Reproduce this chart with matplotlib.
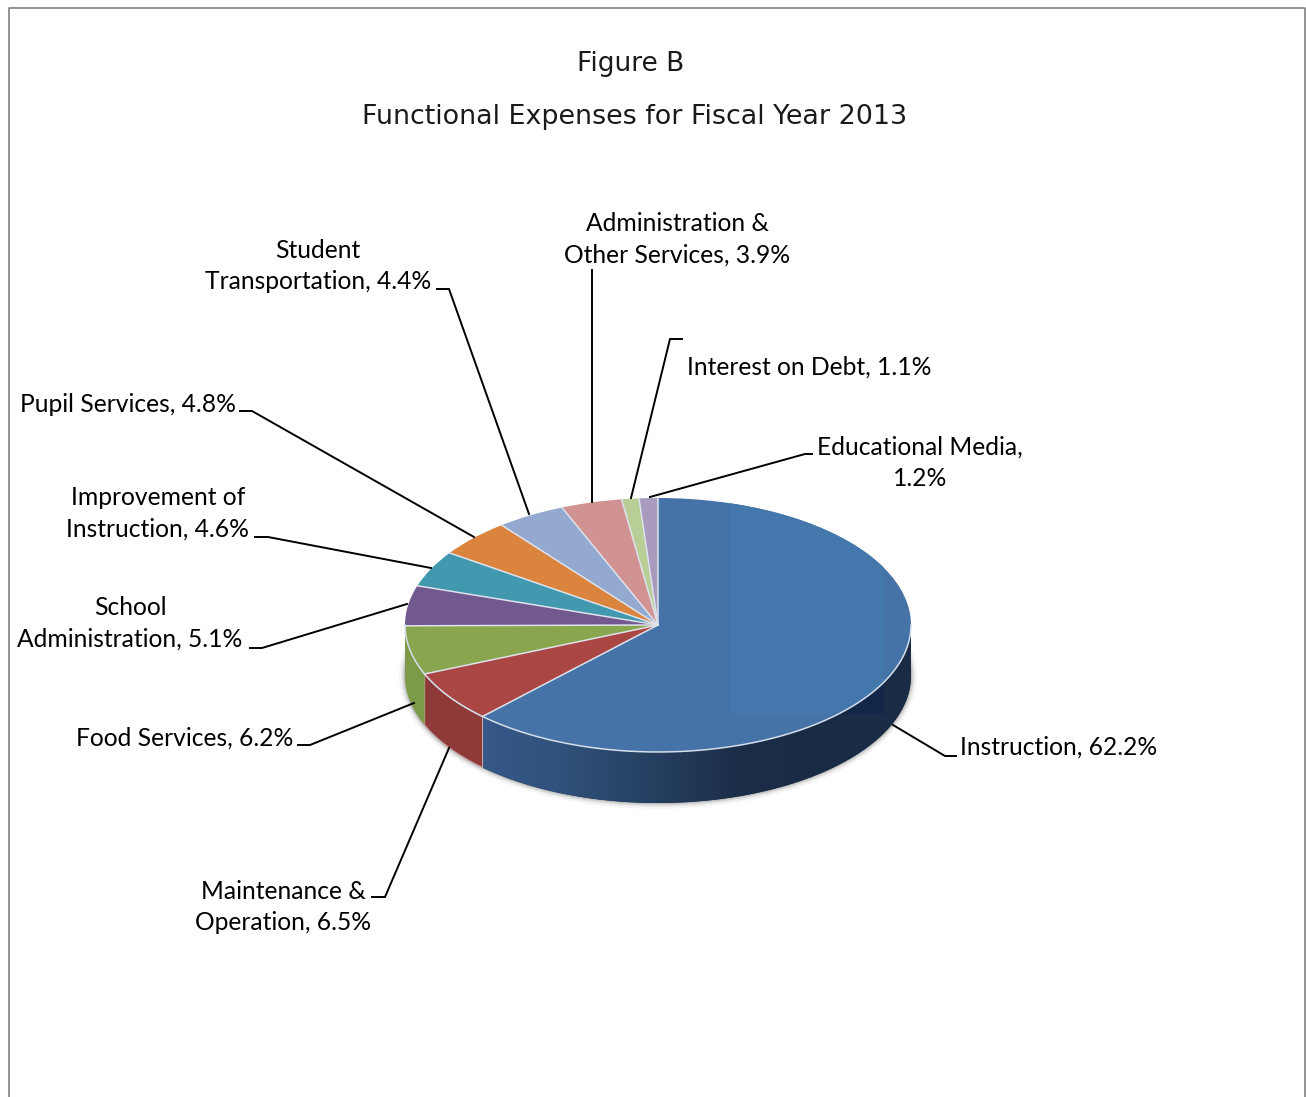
import numpy as np
import matplotlib
matplotlib.use('Agg')
import matplotlib.pyplot as plt
from matplotlib.colors import LinearSegmentedColormap
from matplotlib.patches import Ellipse, Polygon, Rectangle

# values in chart order, clockwise from 12 o'clock
categories = ['Instruction', 'Maintenance & Operation', 'Food Services', 'School Administration',
              'Improvement of Instruction', 'Pupil Services', 'Student Transportation',
              'Administration & Other Services', 'Interest on Debt', 'Educational Media']
values = [62.2, 6.5, 6.2, 5.1, 4.6, 4.8, 4.4, 3.9, 1.1, 1.2]
top_colors = ['#4572a7', '#aa4643', '#89a54e', '#71588f', '#4198af',
              '#db843d', '#93a9cf', '#d19392', '#b9cd96', '#a99bbd']

W, H = 1306, 1097
cx, cy, rx, ry = 658, 625, 253, 127
depth = 51 / ry

fig = plt.figure(figsize=(W / 100, H / 100), dpi=100)

# pie axes: one data unit is rx pixels across and ry pixels down, so the circle reads as a tilted disc
ax = fig.add_axes([0, 0, 1, 1])
wedges, _ = ax.pie(values, colors=top_colors, startangle=90, counterclock=False, radius=1,
                   wedgeprops=dict(linewidth=0))
ax.set_aspect('auto')
ax.set_xlim(-cx / rx, (W - cx) / rx)
ax.set_ylim(-(H - cy) / ry, cy / ry)
ax.axis('off')
for w in wedges:
    w.set_zorder(5)


def side_polygon(a0, a1):
    t = np.radians(np.linspace(a0, a1, 80))
    x, y = np.cos(t), np.sin(t)
    return np.r_[np.c_[x, y], np.c_[x[::-1], y[::-1] - depth]]


# angles of the slice edges, going clockwise from the top
edges = 90 - 3.6 * np.r_[0, np.cumsum(values)]

# soft shadow under the disc
for grow, alpha in [(6, 0.05), (4, 0.08), (2.5, 0.14), (1, 0.22)]:
    ax.add_patch(Ellipse((0, -depth), 2 * (rx + grow) / rx, 2 * (ry + grow) / ry,
                         fc='#555555', ec='none', alpha=alpha, zorder=1))

# rim of the three slices that face the viewer
side_cmap = LinearSegmentedColormap.from_list('rim', ['#36598a', '#2f5078', '#253f60', '#1b2d47', '#1a2c45', '#1a2c45'])
rim0 = Polygon(side_polygon(0, edges[1]), fc='#1a2c45', ec='none', zorder=2)
ax.add_patch(rim0)
grad = ax.imshow(np.linspace(0, 1, 256).reshape(1, -1), cmap=side_cmap, aspect='auto',
                 extent=[(482 - cx) / rx, 1.01, -1.6, 0], zorder=3)
grad.set_clip_path(rim0)

ax.add_patch(Polygon(side_polygon(edges[1], edges[2]), fc='#8e3a38', ec='#c9a3a3', lw=0.8, zorder=3))
ax.add_patch(Polygon(side_polygon(edges[2], edges[3]), fc='#7c9a47', ec='none', zorder=3))

# lighter block on the big slice and its dark counterpart on the rim
block = Rectangle(((730 - cx) / rx, -(714 - cy) / ry), (884 - 730) / rx, (714 - 498) / ry,
                  fc='#4477ab', ec='none', zorder=5.5)
ax.add_patch(block)
block.set_clip_path(wedges[0])
dark = Rectangle(((838 - cx) / rx, -(714 - cy) / ry), (884 - 838) / rx, 30 / ry,
                 fc='#12264a', ec='none', zorder=4)
ax.add_patch(dark)

# pale slice borders: spokes from the centre and the arc along the front of the disc
for a in np.radians(edges[1:]):
    ax.plot([0, np.cos(a)], [0, np.sin(a)], color='#dde2ec', lw=1.1, zorder=6)
t = np.radians(np.linspace(0, -180, 300))
ax.plot(np.cos(t), np.sin(t), color='#d5deeb', lw=1.1, zorder=6)

# overlay in picture pixels for frame, leaders and labels
ov = fig.add_axes([0, 0, 1, 1])
ov.set_xlim(0, W)
ov.set_ylim(H, 0)
ov.axis('off')
ov.patch.set_alpha(0)

ov.plot([9, 9, 1305, 1305], [H, 8, 8, H], color='#808080', lw=1.2)

leaders = [
    ([893, 945, 956], [725, 756, 756]),
    ([449, 385, 372], [748, 897, 897]),
    ([414, 310, 298], [703, 745, 745]),
    ([407, 262, 250], [604, 648, 648]),
    ([431, 268, 255], [568, 537, 537]),
    ([474, 252, 240], [537, 411, 411]),
    ([529, 449, 437], [514, 289, 289]),
    ([592, 592], [502, 270]),
    ([631, 670, 682], [498, 339, 339]),
    ([650, 805, 812], [497, 454, 454]),
]
for xs, ys in leaders:
    ov.plot(xs, ys, color='black', lw=1.4, solid_joinstyle='miter')

labels = [
    ('Instruction, 62.2%', 960, 747, 'left'),
    ('Maintenance &\nOperation, 6.5%', 283, 907, 'center'),
    ('Food Services, 6.2%', 185, 738, 'center'),
    ('School\nAdministration, 5.1%', 130, 623, 'center'),
    ('Improvement of\nInstruction, 4.6%', 158, 513, 'center'),
    ('Pupil Services, 4.8%', 128, 404, 'center'),
    ('Student\nTransportation, 4.4%', 318, 266, 'center'),
    ('Administration &\nOther Services, 3.9%', 677, 239, 'center'),
    ('Interest on Debt, 1.1%', 687, 367, 'left'),
    ('Educational Media,\n1.2%', 920, 463, 'center'),
]
for txt, x, y, ha in labels:
    ov.text(x, y, txt, ha=ha, va='center', family='Lato', fontsize=17.7, linespacing=1.44, color='black')

ov.text(631, 64, 'Figure B', ha='center', va='center', family='DejaVu Sans', fontsize=19, color='#1a1a1a')
ov.text(635, 117, 'Functional Expenses for Fiscal Year 2013', ha='center', va='center',
        family='DejaVu Sans', fontsize=19.4, color='#1a1a1a')

fig.savefig('out.png', dpi=100, facecolor='white')
